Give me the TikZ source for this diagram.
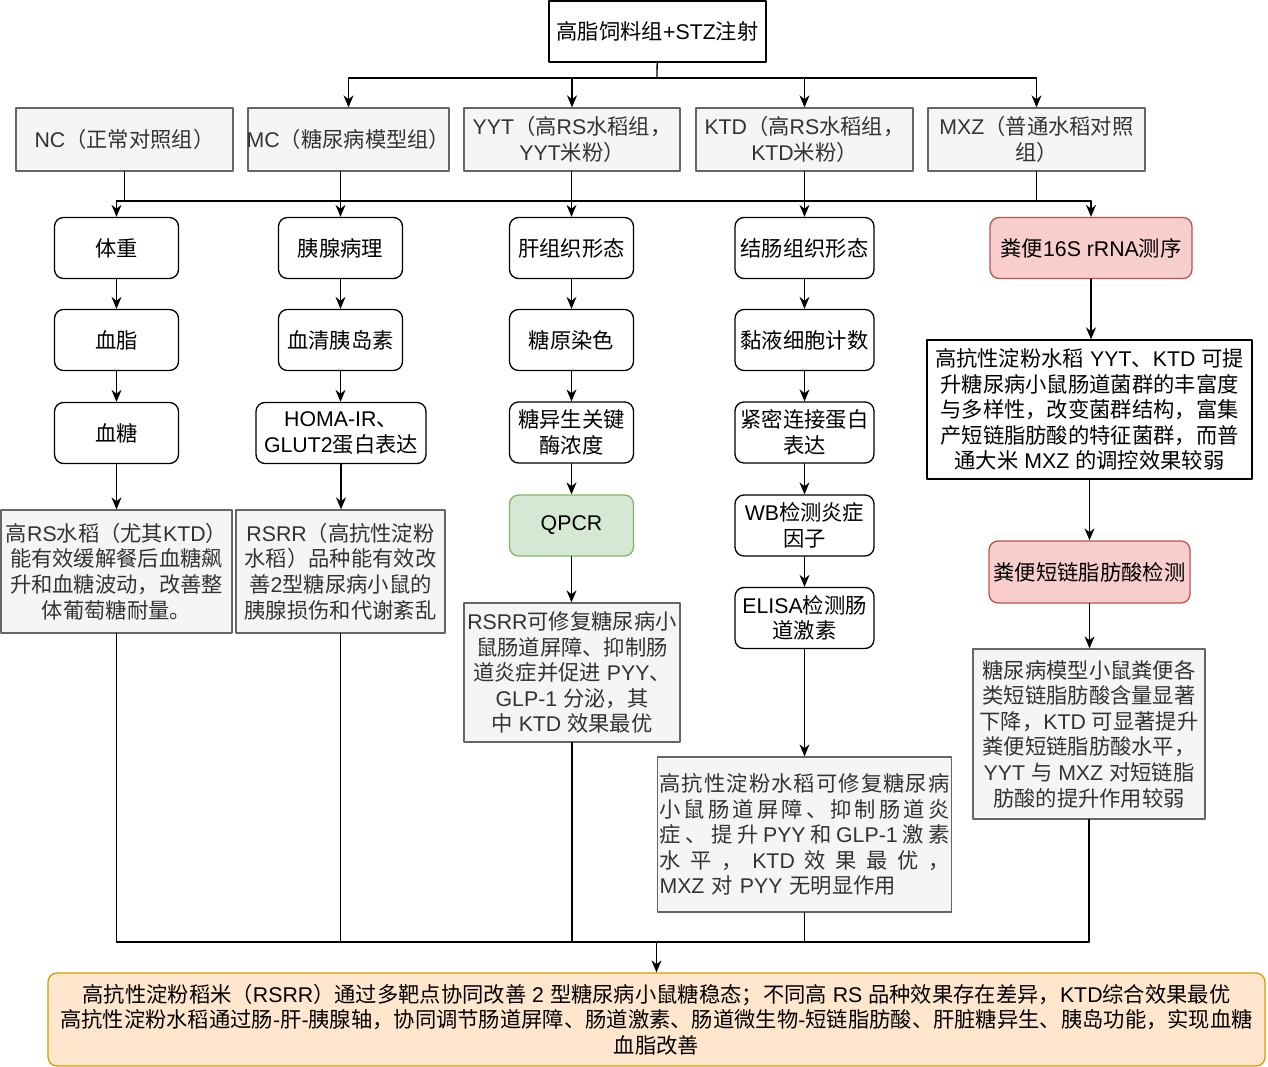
\documentclass[tikz,border=0pt]{standalone}
\usepackage{fontspec}
\usetikzlibrary{arrows.meta}
\setmainfont{Liberation Sans}
\newfontfamily\cjkfont{Noto Sans CJK SC}
\newfontfamily\latfont{Liberation Sans}
\XeTeXinterchartokenstate=1
\newXeTeXintercharclass\cjkclass
\newcount\cjkcode
\newcommand\setcjkrange[2]{\cjkcode=#1\relax
  \loop\XeTeXcharclass\cjkcode=\cjkclass
  \ifnum\cjkcode<#2\relax\advance\cjkcode by 1\repeat}
\setcjkrange{"3000}{"303F}
\setcjkrange{"4E00}{"9FFF}
\setcjkrange{"FF00}{"FFEF}
\XeTeXinterchartoks 0 \cjkclass={\cjkfont}
\XeTeXinterchartoks 4095 \cjkclass={\cjkfont}
\XeTeXinterchartoks \cjkclass 0={\latfont}
\XeTeXinterchartoks \cjkclass 4095={\latfont}
\definecolor{grayfill}{HTML}{F5F5F5}
\definecolor{graydraw}{HTML}{666666}
\definecolor{graytext}{HTML}{333333}
\definecolor{redfill}{HTML}{F8CECC}
\definecolor{reddraw}{HTML}{B85450}
\definecolor{greenfill}{HTML}{D5E8D4}
\definecolor{greendraw}{HTML}{82B366}
\definecolor{orangefill}{HTML}{FFE6CC}
\definecolor{orangedraw}{HTML}{D79B00}
\begin{document}
\begin{tikzpicture}[line cap=round, line join=round, >={Stealth[length=12pt,width=10pt]}, x=1pt, y=-1pt, line width=1.3pt, font=\fontsize{21.3}{25.6}\selectfont]
			\tikzset{base/.style={minimum height=61pt, inner xsep=-6pt, inner ysep=0pt, align=center},
				topbox/.style={base, draw, fill=white},
				grpbox/.style={base, draw=graydraw, fill=grayfill, text=graytext, minimum height=63pt},
				stepbox/.style={base, draw, fill=white, rounded corners=9pt, minimum width=124pt},
				redbox/.style={stepbox, draw=reddraw, fill=redfill},
				greenbox/.style={stepbox, draw=greendraw, fill=greenfill},
				notebox/.style={base, draw=graydraw, fill=grayfill, text=graytext},
				endbox/.style={base, draw=orangedraw, fill=orangefill, rounded corners=9pt}}
			\useasboundingbox (0,0) rectangle (1268,1067);
			\node[topbox, minimum width=217pt] (stz) at (657.5,31.5) {高脂饲料组+STZ注射};
			\node[grpbox, minimum width=217pt] (nc) at (124.5,139.5) {NC（正常对照组）};
			\node[grpbox, minimum width=201pt] (mc) at (348.5,139.5) {MC（糖尿病模型组）};
			\node[grpbox, minimum width=216pt] (yyt) at (572,139.5) {YYT（高RS水稻组，\\YYT米粉）};
			\node[grpbox, minimum width=217pt] (ktd) at (804.5,139.5) {KTD（高RS水稻组，\\KTD米粉）};
			\node[grpbox, minimum width=217pt] (mxz) at (1036.5,139.5) {MXZ（普通水稻对照\\组）};
			\node[stepbox] (wt) at (116.5,248) {体重};
			\node[stepbox] (pan) at (340.5,248) {胰腺病理};
			\node[stepbox] (liv) at (571.5,248) {肝组织形态};
			\node[stepbox, minimum width=139pt] (col) at (804.5,248) {结肠组织形态};
			\node[redbox, minimum width=202pt] (seq) at (1091,248) {粪便16S rRNA测序};
			\node[stepbox] (lip) at (116.5,340) {血脂};
			\node[stepbox] (ins) at (340.5,340) {血清胰岛素};
			\node[stepbox] (gly) at (571.5,340) {糖原染色};
			\node[stepbox, minimum width=139pt] (muc) at (804.5,340) {黏液细胞计数};
			\node[stepbox] (glu) at (116.5,433) {血糖};
			\node[stepbox, minimum width=170pt] (homa) at (341,433) {HOMA-IR、\\GLUT2蛋白表达};
			\node[stepbox] (gng) at (571.5,432.5) {糖异生关键\\酶浓度};
			\node[stepbox, minimum width=139pt] (tj) at (804.5,432.5) {紧密连接蛋白\\表达};
			\node[greenbox] (pcr) at (571.5,525.5) {QPCR};
			\node[stepbox, minimum width=139pt] (wb) at (804.5,525.5) {WB检测炎症\\因子};
			\node[stepbox, minimum width=139pt] (eli) at (804.5,618) {ELISA检测肠\\道激素};
			\node[notebox, minimum width=231pt, minimum height=123pt] (n1) at (116.5,571.5) {高RS水稻（尤其KTD）\\能有效缓解餐后血糖飙\\升和血糖波动，改善整\\体葡萄糖耐量。};
			\node[notebox, minimum width=209pt, minimum height=123pt] (n2) at (340.5,571.5) {RSRR（高抗性淀粉\\水稻）品种能有效改\\善2型糖尿病小鼠的\\胰腺损伤和代谢紊乱};
			\node[notebox, minimum width=216pt, minimum height=139pt] (n3) at (572,672.5) {RSRR可修复糖尿病小\\鼠肠道屏障、抑制肠\\道炎症并促进 PYY、\\GLP-1 分泌，其\\中 KTD 效果最优};
			\node[notebox, minimum width=294pt, minimum height=155pt, text width=290pt, align=left] (n4) at (804.5,834.5) {\makebox[290pt][s]{高\hfill 抗\hfill 性\hfill 淀\hfill 粉\hfill 水\hfill 稻\hfill 可\hfill 修\hfill 复\hfill 糖\hfill 尿\hfill 病}\\\makebox[290pt][s]{小\hfill 鼠\hfill 肠\hfill 道\hfill 屏\hfill 障\hfill 、\hfill 抑\hfill 制\hfill 肠\hfill 道\hfill 炎}\\\makebox[290pt][s]{症\hfill 、\hfill 提\hfill 升\hfill PYY\hfill 和\hfill GLP-1\hfill 激\hfill 素}\\\makebox[290pt][s]{水\hfill 平\hfill ，\hfill KTD\hfill 效\hfill 果\hfill 最\hfill 优\hfill ，}\\MXZ 对 PYY 无明显作用};
			\node[base, draw, fill=white, minimum width=325pt, minimum height=139pt] (mic) at (1089.5,409.5) {高抗性淀粉水稻 YYT、KTD 可提\\升糖尿病小鼠肠道菌群的丰富度\\与多样性，改变菌群结构，富集\\产短链脂肪酸的特征菌群，而普\\通大米 MXZ 的调控效果较弱};
			\node[redbox, minimum width=201pt, minimum height=62pt] (scfa) at (1089.5,572) {粪便短链脂肪酸检测};
			\node[notebox, minimum width=232pt, minimum height=170pt] (n5) at (1089,734) {糖尿病模型小鼠粪便各\\类短链脂肪酸含量显著\\下降，KTD 可显著提升\\粪便短链脂肪酸水平，\\YYT 与 MXZ 对短链脂\\肪酸的提升作用较弱};
			\node[endbox, minimum width=1217pt, minimum height=93pt] (end) at (656.5,1019.5) {高抗性淀粉稻米（RSRR）通过多靶点协同改善 2 型糖尿病小鼠糖稳态；不同高 RS 品种效果存在差异，KTD综合效果最优\\高抗性淀粉水稻通过肠-肝-胰腺轴，协同调节肠道屏障、肠道激素、肠道微生物-短链脂肪酸、肝脏糖异生、胰岛功能，实现血糖\\血脂改善};
			\coordinate (bus1) at (657,78);
			\coordinate (bus2) at (0,201);
			\coordinate (bus3) at (0,942);
			\draw (stz) -- (bus1);
			\draw (mc.north |- bus1) -- (mxz.north |- bus1);
			\foreach \g in {mc,yyt,ktd,mxz} \draw[->] (\g.north |- bus1) -- (\g);
			\foreach \g/\s in {nc/nc,mc/pan,yyt/liv,ktd/col,mxz/mxz} \draw (\g.south -| \s) -- (\s |- bus2);
			\draw (wt |- bus2) -- (seq |- bus2);
			\foreach \s in {wt,pan,liv,col,seq} \draw[->] (\s |- bus2) -- (\s);
			\foreach \a/\b in {wt/lip,lip/glu,glu/n1,pan/ins,ins/homa,homa/n2,liv/gly,gly/gng,gng/pcr,pcr/n3,col/muc,muc/tj,tj/wb,wb/eli,eli/n4,seq/mic,mic/scfa,scfa/n5} \draw[->] (\a) -- (\a |- \b.north);
			\foreach \s in {n1,n2,n3,n4,n5} \draw (\s) -- (\s |- bus3);
			\draw (n1 |- bus3) -- (n5 |- bus3);
			\draw[->] (end |- bus3) -- (end);
	\end{tikzpicture}
\end{document}
